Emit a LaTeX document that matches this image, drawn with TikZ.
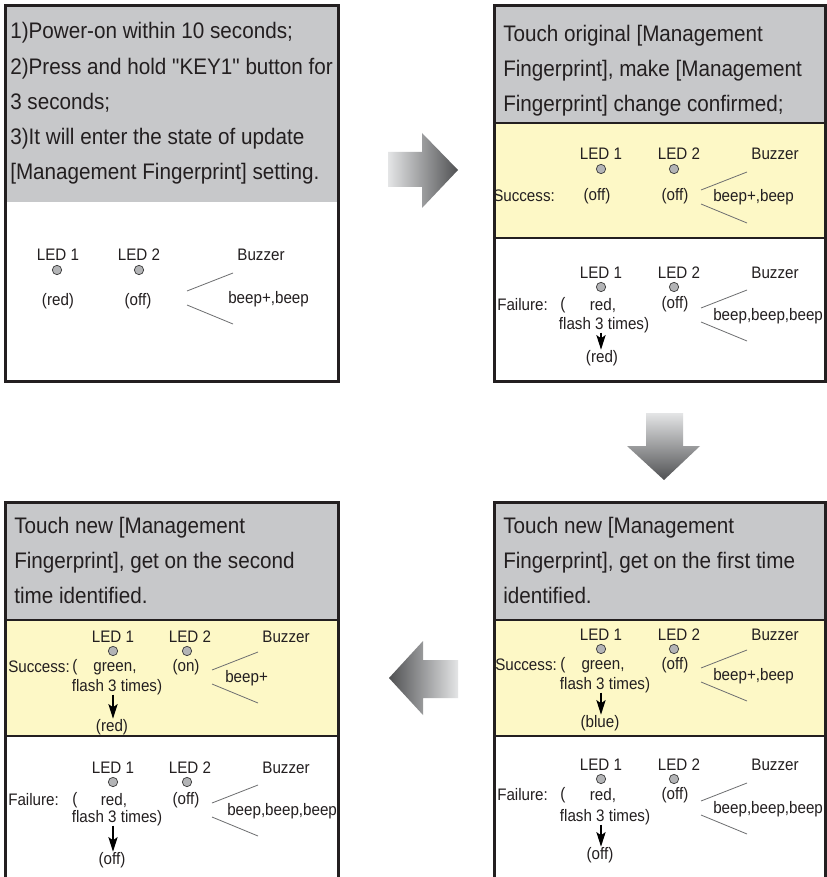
\documentclass[tikz,border=0pt]{standalone}
\usepackage{fontspec}
\setmainfont{Liberation Sans}[Ligatures=TeXOff]
\newfontfamily\titlef{Liberation Sans}[FakeStretch=0.92, Ligatures=TeXOff]
\newfontfamily\smallf{Liberation Sans}[FakeStretch=0.91, Ligatures=TeXOff]
\usetikzlibrary{arrows.meta}
\definecolor{txt}{HTML}{231F20}
\definecolor{hdr}{HTML}{C7C8CA}
\definecolor{okfill}{HTML}{FDF8C6}
\definecolor{framec}{HTML}{231F20}
\definecolor{ledfill}{HTML}{B3B4B6}
\definecolor{wedgec}{HTML}{6D6E70}
\definecolor{arlight}{HTML}{E4E5E6}
\definecolor{ardark}{HTML}{505153}
\tikzset{
 panel/.style={draw=framec, line width=2.25pt},
 sepline/.style={draw=framec, line width=1.5pt},
 ttl/.style={anchor=base west, inner sep=0pt, text=txt, font=\titlef\fontsize{16.85}{19}\selectfont},
 lbl/.style={anchor=base, inner sep=0pt, text=txt, font=\smallf\fontsize{12.5}{14}\selectfont},
 lblw/.style={lbl, anchor=base west},
 led/.style={circle, draw=black!75, fill=ledfill, line width=0.55pt, minimum size=7pt, inner sep=0pt},
 wedgeline/.style={draw=wedgec, line width=0.6pt},
 flow/.style={draw=black, line width=0.9pt, -{Stealth[length=11pt,width=7pt,inset=2.5pt]}},
}
\newcommand\buzzwedge[2]{%
 \draw[wedgeline] ({#1-74},{#2-7}) -- ({#1-28},{#2-25});
 \draw[wedgeline] ({#1-74},{#2+7}) -- ({#1-28},{#2+26});}
% prefix, x LED1, x LED2, x Buzzer, baseline, x circle 2
\newcommand\ledrow[6]{%
 \node[lbl] (#1-l1) at (#2,#5) {LED 1};
 \node[lbl] (#1-l2) at (#3,#5) {LED 2};
 \node[lbl] (#1-bz) at (#4,#5) {Buzzer};
 \node[led] (#1-c1) at (#2,#5+9) {};
 \node[led] (#1-c2) at (#6,#5+9) {};}
\begin{document}
\begin{tikzpicture}[x=0.75pt,y=-0.75pt]
\clip (0,0) rectangle (827,877);
\fill[white] (0,0) rectangle (827,877);

% ---------- Panel 1
\fill[hdr] (5.5,5.5) rectangle (338.5,202);
\draw[panel] (5.5,5.5) rectangle (338.5,381.5);
\node[ttl] (p1-t1) at (10,39) {1)Power-on within 10 seconds;};
\node[ttl] (p1-t2) at (10,75) {2)Press and hold "KEY1" button for};
\node[ttl] (p1-t3) at (10,110) {3 seconds;};
\node[ttl] (p1-t4) at (10,145) {3)It will enter the state of update};
\node[ttl] (p1-t5) at (10,180) {[Management Fingerprint] setting.};
\node[lbl] (p1-l1) at (58,260) {LED 1};
\node[lbl] (p1-l2) at (139,260) {LED 2};
\node[lbl] (p1-bz) at (261,260) {Buzzer};
\node[led] (p1-c1) at (57,270) {};
\node[led] (p1-c2) at (139,270) {};
\node[lbl] (p1-s1) at (58,305) {(red)};
\node[lbl] (p1-s2) at (138,305) {(off)};
\node[lblw] (p1-bp) at (228,303) {beep+,beep};
\buzzwedge{261}{298}

% ---------- Panel 2
\fill[hdr] (494.5,5.5) rectangle (825.5,122);
\fill[okfill] (494.5,123.5) rectangle (825.5,238);
\draw[sepline] (494.5,123.5) -- (825.5,123.5);
\draw[sepline] (494.5,238) -- (825.5,238);
\draw[panel] (494.5,5.5) rectangle (825.5,381.5);
\node[ttl] (p2-t1) at (503,42) {Touch original [Management};
\node[ttl] (p2-t2) at (503,77) {Fingerprint], make [Management};
\node[ttl] (p2-t3) at (503,112) {Fingerprint] change confirmed;};
\ledrow{p2s}{601}{679}{775}{160}{674}
\node[lblw] (p2s-lab) at (493,202) {Success:};
\node[lbl] (p2s-s1) at (597,201) {(off)};
\node[lbl] (p2s-s2) at (675,201) {(off)};
\node[lblw] (p2s-bp) at (713,202) {beep+,beep};
\buzzwedge{775}{197}
\ledrow{p2f}{601}{679}{775}{278}{674}
\node[lblw] (p2f-lab) at (497,310) {Failure:};
\node[lblw] (p2f-op) at (560,309) {(};
\node[lbl] (p2f-s1) at (603,310) {red,};
\node[lbl] (p2f-fl) at (604,329) {flash 3 times)};
\node[lbl] (p2f-s2) at (675,308) {(off)};
\node[lbl] (p2f-r) at (602,362) {(red)};
\node[lblw] (p2f-bp) at (713,320) {beep,beep,beep};
\buzzwedge{775}{315}
\draw[flow] (p2f-fl.south -| p2f-l1) -- (p2f-r.north -| p2f-l1);

% ---------- Panel 3 (bottom left)
\fill[hdr] (5.5,502.5) rectangle (338.5,619.5);
\fill[okfill] (5.5,619.5) rectangle (338.5,735.5);
\draw[sepline] (5.5,619.5) -- (338.5,619.5);
\draw[sepline] (5.5,735.5) -- (338.5,735.5);
\draw[panel] (5.5,502.5) rectangle (338.5,900);
\node[ttl] (p3-t1) at (14,533) {Touch new [Management};
\node[ttl] (p3-t2) at (14,568) {Fingerprint], get on the second};
\node[ttl] (p3-t3) at (14,603) {time identified.};
\ledrow{p3s}{113}{190}{286}{642}{187}
\node[lblw] (p3s-lab) at (8,672) {Success:};
\node[lblw] (p3s-op) at (72,671) {(};
\node[lbl] (p3s-s1) at (115,671) {green,};
\node[lbl] (p3s-fl) at (117,691) {flash 3 times)};
\node[lbl] (p3s-s2) at (186,671) {(on)};
\node[lbl] (p3s-r) at (112,731) {(red)};
\node[lblw] (p3s-bp) at (225,682) {beep+};
\buzzwedge{286}{677}
\draw[flow] (p3s-fl.south -| p3s-l1) -- (p3s-r.north -| p3s-l1);
\ledrow{p3f}{113}{190}{286}{773}{187}
\node[lblw] (p3f-lab) at (8,805) {Failure:};
\node[lblw] (p3f-op) at (72,804) {(};
\node[lbl] (p3f-s1) at (114,805) {red,};
\node[lbl] (p3f-fl) at (117,822) {flash 3 times)};
\node[lbl] (p3f-s2) at (186,804) {(off)};
\node[lbl] (p3f-r) at (112,864) {(off)};
\node[lblw] (p3f-bp) at (227,815) {beep,beep,beep};
\buzzwedge{286}{810}
\draw[flow] (p3f-fl.south -| p3f-l1) -- (p3f-r.north -| p3f-l1);

% ---------- Panel 4 (bottom right)
\fill[hdr] (494.5,502.5) rectangle (825.5,620);
\fill[okfill] (494.5,620) rectangle (825.5,736);
\draw[sepline] (494.5,620) -- (825.5,620);
\draw[sepline] (494.5,736) -- (825.5,736);
\draw[panel] (494.5,502.5) rectangle (825.5,900);
\node[ttl] (p4-t1) at (503,533) {Touch new [Management};
\node[ttl] (p4-t2) at (503,568) {Fingerprint], get on the first time};
\node[ttl] (p4-t3) at (503,603) {identified.};
\ledrow{p4s}{601}{679}{775}{640}{674}
\node[lblw] (p4s-lab) at (495,670) {Success:};
\node[lblw] (p4s-op) at (560,669) {(};
\node[lbl] (p4s-s1) at (603,669) {green,};
\node[lbl] (p4s-fl) at (605,689) {flash 3 times)};
\node[lbl] (p4s-s2) at (675,669) {(off)};
\node[lbl] (p4s-r) at (600,727) {(blue)};
\node[lblw] (p4s-bp) at (713,680) {beep+,beep};
\buzzwedge{775}{675}
\draw[flow] (p4s-fl.south -| p4s-l1) -- (p4s-r.north -| p4s-l1);
\ledrow{p4f}{601}{679}{775}{770}{674}
\node[lblw] (p4f-lab) at (497,800) {Failure:};
\node[lblw] (p4f-op) at (560,799) {(};
\node[lbl] (p4f-s1) at (603,800) {red,};
\node[lbl] (p4f-fl) at (605,821) {flash 3 times)};
\node[lbl] (p4f-s2) at (675,799) {(off)};
\node[lbl] (p4f-r) at (600,859) {(off)};
\node[lblw] (p4f-bp) at (713,813) {beep,beep,beep};
\buzzwedge{775}{808}
\draw[flow] (p4f-fl.south -| p4f-l1) -- (p4f-r.north -| p4f-l1);

% ---------- big gradient arrows
\shade[left color=arlight, right color=ardark]
 (388,152) -- (422,152) -- (422,133) -- (458,170) -- (422,208) -- (422,187) -- (388,187) -- cycle;
\shade[top color=arlight, bottom color=ardark]
 (646,413) -- (683,413) -- (683,446) -- (700,446) -- (664,480) -- (627,446) -- (646,446) -- cycle;
\shade[left color=ardark, right color=arlight]
 (458,660) -- (423,660) -- (423,641) -- (389,678) -- (423,715) -- (423,698) -- (458,698) -- cycle;
\end{tikzpicture}
\end{document}
